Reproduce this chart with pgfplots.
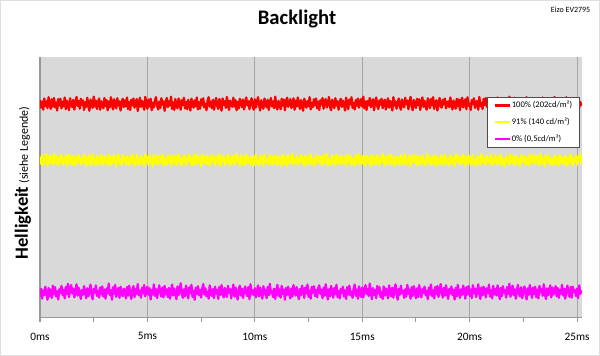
\documentclass[border=0pt]{standalone}
\usepackage{fontspec}
\setmainfont{Carlito}
\usepackage{pgfplots}
\pgfplotsset{compat=1.18}
\usepackage{pgfplotstable}
\pgfplotstableread{
t r y m
0.00 83.5 61.8 8.1
0.05 80.6 59.0 11.2
0.10 82.9 62.5 7.4
0.15 79.8 58.6 10.6
0.20 84.1 61.2 8.8
0.25 81.2 59.9 12.0
0.30 83.0 62.8 9.3
0.35 80.4 58.3 7.0
0.40 84.6 60.7 11.5
0.45 81.9 62.2 8.4
0.50 80.1 59.4 10.9
0.55 83.8 61.6 7.7
0.60 81.0 58.9 12.4
0.65 84.3 62.9 9.0
0.70 80.7 60.1 11.8
0.75 82.6 59.2 8.2
0.80 79.5 62.0 10.3
0.85 83.9 58.5 7.1
0.90 81.4 61.4 11.0
0.95 84.0 60.3 9.6
1.00 80.3 62.6 12.3
1.05 82.8 58.8 8.7
1.10 81.1 61.0 10.8
1.15 84.5 59.6 7.5
1.20 80.0 62.3 11.9
1.25 83.2 58.2 9.2
1.30 81.7 60.9 13.1
1.35 79.6 62.7 8.0
1.40 84.2 59.3 10.5
1.45 82.0 61.5 12.6
1.50 80.8 58.7 9.4
1.55 83.6 62.1 11.3
1.60 79.9 60.4 7.9
1.65 82.4 58.4 10.1
1.70 84.7 61.9 12.9
1.75 81.3 59.7 8.6
1.80 83.1 62.4 11.6
1.85 80.2 60.0 9.8
1.90 84.0 58.9 7.3
1.95 81.6 61.3 10.7
2.00 83.4 59.5 8.9
2.05 79.7 62.8 12.2
2.10 82.7 60.6 10.0
2.15 80.9 58.3 7.6
2.20 84.4 61.7 11.4
2.25 81.5 59.1 8.3
2.30 79.4 62.2 10.2
2.35 83.7 60.2 12.8
2.40 82.2 58.6 9.1
2.45 80.5 62.9 7.2
2.50 84.8 59.8 11.1
2.55 81.0 61.1 9.7
2.60 83.3 58.5 12.5
2.65 80.1 62.0 8.5
2.70 82.5 60.8 10.4
2.75 84.1 59.0 7.8
2.80 79.8 61.6 11.7
2.85 83.0 62.5 9.0
2.90 81.8 58.7 12.1
2.95 80.4 60.5 8.2
3.00 84.3 62.1 10.9
3.05 81.2 59.3 7.4
3.10 83.5 61.4 11.3
3.15 79.6 58.4 9.5
3.20 82.9 62.6 13.2
3.25 80.7 60.0 8.8
3.30 84.6 58.8 10.6
3.35 81.9 61.9 7.0
3.40 79.9 59.5 11.8
3.45 83.8 62.3 9.3
3.50 82.1 60.7 12.7
3.55 80.3 58.2 8.1
3.60 84.2 61.2 10.0
3.65 81.4 62.7 11.5
3.70 83.0 59.2 7.7
3.75 79.5 60.9 12.0
3.80 82.6 58.6 9.6
3.85 84.0 62.4 8.4
3.90 80.8 59.9 11.2
3.95 83.4 61.5 10.3
4.00 81.1 58.9 7.5
4.05 84.5 62.0 11.9
4.10 80.0 60.3 8.6
4.15 82.8 58.5 12.4
4.20 79.7 61.8 9.9
4.25 83.6 59.4 7.3
4.30 81.5 62.8 10.8
4.35 84.1 60.6 12.2
4.40 80.6 58.3 8.0
4.45 82.3 61.1 11.0
4.50 83.9 62.5 9.2
4.55 79.3 59.0 13.0
4.60 82.0 60.8 8.7
4.65 84.4 58.7 10.5
4.70 80.9 62.2 7.8
4.75 83.2 59.6 11.6
4.80 81.7 61.3 9.4
4.85 79.8 58.4 12.6
4.90 84.7 62.9 8.3
4.95 82.4 60.1 10.1
5.00 80.2 61.7 12.0
5.05 83.7 58.6 8.9
5.10 81.0 62.4 11.4
5.15 84.0 59.8 7.1
5.20 79.6 61.0 10.7
5.25 82.5 58.2 9.0
5.30 80.7 62.6 12.9
5.35 83.3 60.4 8.5
5.40 84.6 59.1 11.1
5.45 81.3 61.9 7.6
5.50 79.9 58.8 10.3
5.55 82.9 62.1 12.5
5.60 80.5 60.0 9.7
5.65 84.2 59.5 8.2
5.70 81.8 62.7 11.7
5.75 83.0 58.5 7.9
5.80 79.4 61.4 12.3
5.85 82.7 60.2 9.1
5.90 84.3 58.9 10.9
5.95 80.8 62.3 8.0
6.00 83.1 59.7 11.5
6.05 81.4 61.6 7.4
6.10 84.8 58.4 10.2
6.15 80.1 62.5 12.8
6.20 82.6 60.5 8.6
6.25 79.7 59.2 11.3
6.30 83.9 62.0 9.5
6.35 81.2 58.7 7.2
6.40 80.4 61.2 12.1
6.45 84.1 62.8 8.8
6.50 82.2 59.3 10.6
6.55 79.8 60.9 13.3
6.60 83.5 58.3 9.3
6.65 81.6 61.8 7.7
6.70 84.4 60.1 11.0
6.75 80.3 62.4 8.4
6.80 82.8 58.6 12.4
6.85 80.0 61.0 10.0
6.90 83.6 59.9 7.5
6.95 81.9 62.6 11.8
7.00 79.5 60.6 9.6
7.05 84.0 58.5 12.7
7.10 82.3 61.5 8.1
7.15 80.6 59.0 10.4
7.20 83.4 62.9 7.0
7.25 81.1 60.3 11.6
7.30 84.5 58.8 9.2
7.35 79.9 62.2 12.2
7.40 82.7 59.6 8.7
7.45 80.2 61.3 10.8
7.50 83.8 58.2 7.8
7.55 81.5 62.7 11.2
7.60 84.2 60.0 13.0
7.65 80.7 59.4 9.0
7.70 82.1 61.9 11.4
7.75 79.6 58.9 8.3
7.80 83.2 62.1 10.1
7.85 84.6 60.7 7.4
7.90 81.0 58.4 12.5
7.95 82.9 61.1 9.8
8.00 80.4 62.5 8.5
8.05 83.6 59.8 11.1
8.10 79.8 61.7 7.6
8.15 82.4 58.6 12.0
8.20 84.3 62.0 9.4
8.25 81.3 60.4 10.7
8.30 80.1 59.1 7.3
8.35 83.9 62.8 11.9
8.40 82.6 58.3 8.9
8.45 79.4 61.4 12.6
8.50 84.1 60.2 9.1
8.55 81.7 62.3 7.9
8.60 83.0 58.7 11.5
8.65 80.5 61.0 10.3
8.70 84.7 59.5 8.0
8.75 81.8 62.6 12.3
8.80 79.7 60.8 9.7
8.85 83.3 58.5 11.0
8.90 82.0 61.6 7.5
8.95 80.9 59.3 10.5
9.00 84.4 62.2 12.8
9.05 81.0 58.9 8.2
9.10 83.5 60.6 11.7
9.15 79.6 62.9 9.3
9.20 82.8 59.7 7.1
9.25 80.3 61.2 10.9
9.30 84.0 58.2 12.4
9.35 82.5 62.4 8.6
9.40 80.8 60.1 11.3
9.45 83.7 59.0 7.7
9.50 79.9 61.8 10.0
9.55 82.2 58.6 12.1
9.60 84.5 62.7 9.5
9.65 81.4 60.3 8.4
9.70 83.1 59.4 11.8
9.75 80.0 61.5 7.2
9.80 82.7 58.8 12.9
9.85 84.2 62.0 9.0
9.90 81.2 60.9 10.6
9.95 79.8 58.4 8.8
10.00 83.8 61.3 11.4
10.05 80.6 62.6 7.9
10.10 82.9 59.2 10.2
10.15 84.6 60.7 12.5
10.20 81.5 58.5 8.3
10.25 79.5 62.1 11.6
10.30 83.4 59.9 9.8
10.35 81.9 61.7 7.4
10.40 80.2 58.3 12.2
10.45 84.1 62.8 9.1
10.50 82.3 60.0 10.8
10.55 80.7 59.6 7.6
10.60 83.6 61.1 11.9
10.65 79.7 58.9 8.7
10.70 82.6 62.5 13.1
10.75 84.3 60.5 9.4
10.80 81.1 58.7 10.4
10.85 83.0 61.9 8.0
10.90 80.4 59.1 11.2
10.95 84.8 62.3 7.3
11.00 81.6 60.2 10.6
11.05 79.9 58.6 12.7
11.10 83.2 62.0 8.5
11.15 82.1 59.5 11.0
11.20 80.0 61.4 7.8
11.25 84.0 58.4 12.3
11.30 81.3 62.7 9.2
11.35 83.7 60.6 10.9
11.40 79.6 59.0 7.0
11.45 82.8 61.8 11.5
11.50 84.4 58.2 8.9
11.55 80.9 62.4 12.0
11.60 82.4 60.1 9.6
11.65 83.9 59.3 7.5
11.70 80.5 61.6 11.3
11.75 81.8 62.9 8.2
11.80 84.2 58.8 12.6
11.85 79.8 60.8 10.1
11.90 83.3 59.7 8.6
11.95 81.0 62.2 11.8
12.00 84.5 58.5 9.0
12.05 82.2 61.2 7.2
12.10 80.1 60.0 11.1
12.15 83.5 62.6 8.8
12.20 81.7 59.4 12.4
12.25 79.4 61.5 10.3
12.30 84.0 58.3 7.7
12.35 82.7 62.1 11.7
12.40 80.6 60.4 9.4
12.45 83.1 58.9 12.8
12.50 81.2 61.9 8.1
12.55 84.6 59.8 10.5
12.60 79.9 62.8 7.4
12.65 82.5 58.6 11.9
12.70 80.8 61.0 9.7
12.75 83.8 60.7 12.2
12.80 81.5 58.4 8.4
12.85 84.1 62.3 10.7
12.90 80.3 59.6 7.9
12.95 82.9 61.3 11.4
13.00 79.7 62.0 12.5
13.05 83.4 59.1 9.3
13.10 81.8 61.7 10.8
13.15 84.3 58.7 7.6
13.20 80.2 62.5 11.6
13.25 82.6 60.3 8.6
13.30 83.9 59.5 12.9
13.35 80.7 62.9 9.9
13.40 82.0 58.2 7.1
13.45 84.7 61.1 11.0
13.50 81.1 60.9 8.3
13.55 79.6 58.8 12.3
13.60 83.6 62.4 10.2
13.65 82.3 59.9 7.8
13.70 80.4 61.4 11.5
13.75 84.2 58.5 9.1
13.80 81.4 62.6 12.7
13.85 83.0 60.1 8.0
13.90 79.8 59.2 10.4
13.95 82.8 61.8 7.5
14.00 84.0 58.9 11.2
14.05 80.9 62.2 9.6
14.10 83.3 60.5 12.0
14.15 81.6 59.3 8.2
14.20 79.5 61.6 10.6
14.25 84.4 58.3 7.3
14.30 82.1 62.7 11.8
14.35 80.0 60.0 9.0
14.40 83.7 59.7 12.4
14.45 81.9 62.1 8.7
14.50 84.6 58.6 10.1
14.55 80.5 61.2 7.7
14.60 82.4 60.8 11.4
14.65 79.9 58.4 12.8
14.70 83.5 62.5 8.5
14.75 81.3 59.4 10.9
14.80 84.1 61.0 7.4
14.85 80.6 62.8 12.1
14.90 82.7 58.7 9.5
14.95 83.9 60.6 8.1
15.00 81.0 61.9 11.7
15.05 84.8 59.0 7.9
15.10 80.3 62.3 10.3
15.15 82.9 58.5 12.6
15.20 79.7 60.7 9.2
15.25 83.2 62.0 11.1
15.30 81.5 59.6 8.4
15.35 84.3 61.5 13.2
15.40 80.8 58.2 9.8
15.45 82.2 62.6 7.2
15.50 83.8 60.2 11.5
15.55 79.6 59.1 8.8
15.60 82.6 61.7 10.7
15.65 84.5 58.9 7.6
15.70 81.2 62.4 12.3
15.75 80.1 60.4 9.4
15.80 83.4 58.6 11.9
15.85 81.7 61.3 8.0
15.90 84.0 59.8 10.0
15.95 80.4 62.9 7.3
16.00 82.8 60.1 12.1
16.05 83.6 58.4 8.6
16.10 79.9 61.8 11.3
16.15 81.8 59.3 9.7
16.20 84.2 62.2 7.5
16.25 80.6 60.6 12.5
16.30 83.1 58.8 10.2
16.35 82.4 62.7 8.3
16.40 79.5 59.5 11.6
16.45 84.6 61.1 7.8
16.50 81.4 58.3 10.8
16.55 83.0 62.0 12.9
16.60 80.2 60.9 9.1
16.65 82.5 59.2 7.0
16.70 84.1 61.6 11.2
16.75 81.1 58.7 8.9
16.80 79.8 62.5 12.4
16.85 83.7 60.3 9.5
16.90 82.0 59.0 10.5
16.95 80.7 61.4 7.7
17.00 84.4 62.8 11.0
17.05 81.9 58.6 8.2
17.10 83.3 61.0 12.7
17.15 80.0 59.7 9.3
17.20 82.7 62.3 10.9
17.25 84.7 58.2 7.4
17.30 81.3 61.5 11.8
17.35 79.6 60.0 8.5
17.40 83.5 62.6 12.2
17.45 82.1 59.4 9.9
17.50 80.5 61.9 7.6
17.55 84.0 58.5 11.4
17.60 81.6 62.1 8.0
17.65 83.8 60.5 12.6
17.70 79.7 58.9 10.1
17.75 82.3 61.2 7.9
17.80 84.5 62.4 11.1
17.85 80.9 59.1 9.6
17.90 83.2 60.8 12.0
17.95 81.0 58.4 8.7
18.00 79.8 61.7 10.4
18.05 84.2 62.9 7.2
18.10 82.6 59.6 11.7
18.15 80.4 61.3 9.0
18.20 83.9 58.7 12.8
18.25 81.5 62.0 8.4
18.30 84.6 60.2 10.6
18.35 80.1 59.0 7.5
18.40 82.8 62.5 11.9
18.45 83.4 58.3 9.2
18.50 79.5 61.4 12.3
18.55 82.0 60.7 8.1
18.60 84.3 58.8 10.2
18.65 81.2 62.2 13.0
18.70 80.6 59.5 9.7
18.75 83.6 61.8 7.8
18.80 81.8 58.6 11.5
18.85 84.1 62.7 8.6
18.90 80.3 60.4 12.5
18.95 82.4 59.2 10.0
19.00 83.0 61.1 7.3
19.05 80.8 58.5 11.2
19.10 84.5 62.4 9.4
19.15 81.7 60.0 12.1
19.20 79.9 59.3 8.8
19.25 83.3 61.6 10.7
19.30 82.2 58.2 7.1
19.35 80.2 62.8 11.6
19.40 84.0 60.6 8.3
19.45 81.1 59.8 12.7
19.50 83.7 62.1 9.8
19.55 79.6 58.9 7.7
19.60 82.9 61.5 11.0
19.65 84.4 59.4 8.9
19.70 80.7 62.6 12.4
19.75 82.5 60.3 10.3
19.80 83.8 58.4 7.4
19.85 80.0 61.9 11.8
19.90 84.6 59.1 9.1
19.95 81.4 62.3 12.2
20.00 82.1 60.8 8.5
20.05 79.7 58.7 10.9
20.10 83.5 61.2 7.6
20.15 81.9 62.5 12.6
20.20 84.2 59.0 9.5
20.25 80.5 60.5 11.3
20.30 82.7 58.3 8.0
20.35 83.1 62.0 10.1
20.40 79.8 59.7 12.9
20.45 84.7 61.7 9.2
20.50 81.3 58.6 7.3
20.55 82.4 62.9 11.7
20.60 80.1 60.1 8.7
20.65 83.9 59.5 12.0
20.70 81.6 61.4 10.5
20.75 84.3 58.8 7.9
20.80 80.9 62.2 11.4
20.85 82.8 60.6 9.6
20.90 79.5 59.3 12.8
20.95 83.4 61.0 8.2
21.00 81.0 62.7 10.8
21.05 84.0 58.4 7.5
21.10 80.6 60.9 12.3
21.15 83.2 59.2 9.0
21.20 82.0 62.4 11.1
21.25 79.9 60.2 8.6
21.30 84.5 58.9 12.5
21.35 81.8 61.8 10.0
21.40 83.6 59.6 7.2
21.45 80.3 62.6 11.5
21.50 82.6 58.5 8.4
21.55 84.1 61.1 12.2
21.60 81.1 60.4 9.7
21.65 79.7 58.2 10.6
21.70 83.0 62.1 7.8
21.75 82.3 59.9 11.9
21.80 80.4 61.5 9.3
21.85 84.8 58.7 13.1
21.90 81.5 62.8 8.1
21.95 83.7 60.0 10.3
22.00 80.2 59.4 12.4
22.05 82.9 61.9 8.8
22.10 84.4 58.6 11.0
22.15 81.2 62.3 7.4
22.20 79.6 60.7 10.7
22.25 83.3 59.1 12.7
22.30 82.5 61.3 9.1
22.35 80.8 58.3 8.3
22.40 84.2 62.5 11.8
22.45 81.7 60.3 7.6
22.50 83.8 59.8 10.2
22.55 80.0 62.0 12.1
22.60 82.2 58.8 9.5
22.65 84.6 61.6 7.1
22.70 81.4 60.1 11.3
22.75 79.8 58.4 8.9
22.80 83.5 62.7 12.6
22.85 82.0 59.5 10.4
22.90 80.5 61.2 7.7
22.95 84.0 62.4 11.6
23.00 81.9 58.9 9.2
23.05 83.1 60.6 12.0
23.10 79.4 62.2 8.0
23.15 82.7 59.3 10.9
23.20 84.3 61.7 7.5
23.25 80.7 58.5 12.3
23.30 83.6 62.9 9.8
23.35 81.3 60.0 11.1
23.40 84.5 59.2 8.5
23.45 80.1 61.4 12.9
23.50 82.4 58.2 9.4
23.55 83.9 62.6 7.3
23.60 79.7 60.5 11.4
23.65 82.8 59.7 8.7
23.70 81.0 62.0 10.6
23.75 84.1 58.7 12.5
23.80 80.4 61.1 7.9
23.85 83.3 60.9 11.7
23.90 81.8 58.6 9.0
23.95 84.7 62.3 10.1
24.00 80.6 60.2 12.2
24.05 82.1 59.0 8.3
24.10 83.7 61.8 11.5
24.15 79.9 58.4 7.7
24.20 84.2 62.5 10.8
24.25 81.5 60.8 9.3
24.30 82.9 59.4 12.7
24.35 80.3 61.5 8.6
24.40 83.4 58.8 11.2
24.45 81.1 62.1 7.4
24.50 84.6 60.3 10.5
24.55 79.6 58.3 12.4
24.60 82.5 61.9 9.6
24.65 83.8 59.6 8.1
24.70 80.8 62.7 11.9
24.75 82.0 60.0 7.8
24.80 84.3 58.5 12.0
24.85 81.2 61.2 9.9
24.90 79.8 59.9 10.7
24.95 83.2 62.4 8.4
25.00 81.6 58.7 11.3
25.05 84.0 61.6 7.6
25.10 80.5 60.4 12.5
25.15 82.8 62.8 9.2
25.20 81.3 59.1 10.6
}\data
\definecolor{bgc}{HTML}{D9D9D9}
\definecolor{gridc}{HTML}{A6A6A6}
\definecolor{axc}{HTML}{989898}
\definecolor{cRed}{HTML}{FF0000}
\definecolor{cYel}{HTML}{FFFF00}
\definecolor{cMag}{HTML}{FF00FF}
\begin{document}
\begin{tikzpicture}[x=0.75pt,y=0.75pt]
\useasboundingbox (0,0) rectangle (600,356);
\draw[gray!25, line width=0.75pt] (0.5,0.5) rectangle (599.5,355.5);
\node[font=\fontsize{15.5}{18}\selectfont\bfseries] at (297,337) {Backlight};
\node[font=\fontsize{6}{7}\selectfont, anchor=east] at (595,346) {Eizo EV2795};
\node[rotate=90, anchor=base] at (28,173) {{\fontsize{14}{16}\selectfont\bfseries Helligkeit} {\fontsize{9}{11}\selectfont (siehe Legende)}};
\begin{axis}[
  at={(30pt,28.5pt)}, anchor=south west,
  scale only axis, width=406.5pt, height=195.75pt,
  xmin=0, xmax=25.23, ymin=0, ymax=100,
  axis background/.style={fill=bgc},
  axis x line*=bottom, axis y line*=left,
  axis line style={axc, line width=0.75pt},
  xtick={0,5,10,15,20,25},
  xticklabels={0ms,5ms,10ms,15ms,20ms,25ms},
  minor xtick={2.5,7.5,12.5,17.5,22.5},
  ytick=\empty,
  tick align=outside,
  major tick length=3pt, minor tick length=3pt,
  every tick/.style={axc, line width=0.75pt},
  xmajorgrids=true,
  grid style={gridc, line width=0.75pt},
  ticklabel style={font=\fontsize{8.5}{10}\selectfont},
  xticklabel style={yshift=-4.5pt},
  /pgf/number format/assume math mode=true,
  legend style={at={(0.996,0.847)}, anchor=north east, draw=gray!60!black, fill=white,
    font=\fontsize{6.4}{7.5}\selectfont, row sep=6.2pt, inner xsep=5pt, inner ysep=3pt,
    nodes={inner xsep=0.6pt, inner ysep=0pt},
    /tikz/every odd column/.append style={column sep=0pt}},
  legend cell align=left,
  legend image code/.code={\draw[#1] (0pt,0pt) -- (11pt,0pt);},
  clip=true,
]
\addplot[draw=cRed, line width=1.7pt, line join=round] table[x=t, y=r] {\data};
\addlegendentry{100\% (202cd/m²)}
\addplot[draw=cYel, line width=1.7pt, line join=round] table[x=t, y=y] {\data};
\addlegendentry{91\% (140 cd/m²)}
\addplot[draw=cMag, line width=1.7pt, line join=round] table[x=t, y=m] {\data};
\addlegendentry{0\% (0,5cd/m²)}
\end{axis}
\end{tikzpicture}
\end{document}
